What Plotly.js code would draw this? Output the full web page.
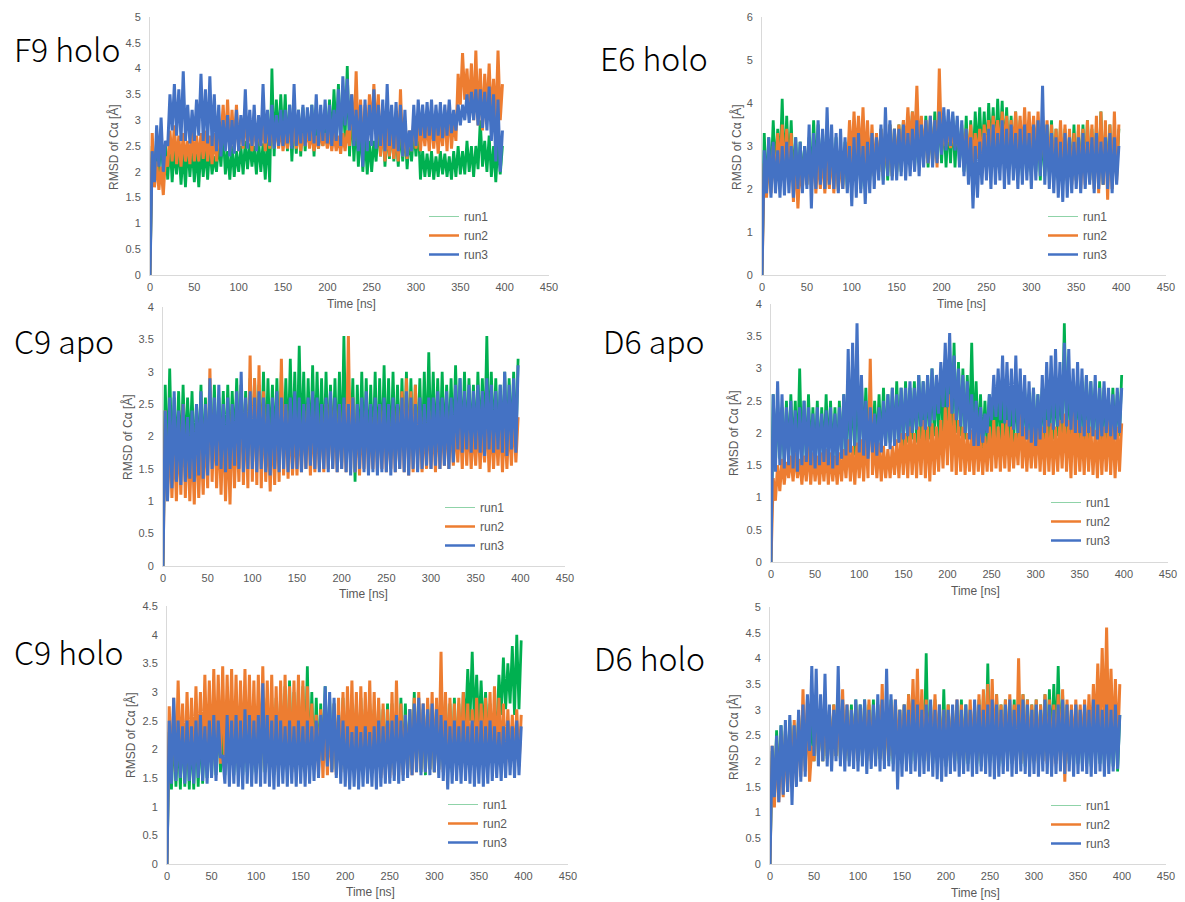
<!DOCTYPE html>
<html><head><meta charset="utf-8">
<script src="https://cdn.plot.ly/plotly-3.0.1.min.js"></script>
<style>html,body{margin:0;padding:0;background:#fff}#chart{width:1185px;height:902px}</style>
</head><body><div id="chart"></div>
<script>
// ---------- data ----------
// time bins (ns), 5-ns steps; each bin has a low and a high RMSD value
const time = Array.from({length: 80}, (_, i) => i * 5);
const runNames = ['run1', 'run2', 'run3'];
const panelTitles = ['F9 holo', 'E6 holo', 'C9 apo', 'D6 apo', 'C9 holo', 'D6 holo'];
const yMax = [5, 6, 4, 4, 4.5, 5];
const yStep = [0.5, 1, 0.5, 0.5, 0.5, 0.5];
const xTicks = [0, 50, 100, 150, 200, 250, 300, 350, 400, 450];
const yTitle = 'RMSD of C\u03b1 [\u00c5]';
const xTitle = 'Time [ns]';

// F9 holo
const f9_run1_lo = [0,1.9,2.0,1.95,1.85,1.8,1.95,1.75,1.7,1.9, 1.8,1.7,1.9,1.85,1.95,2.0,2.1,1.95,1.85,1.9, 2.0,1.95,2.05,2.1,1.95,2.0,1.85,1.8,2.3,2.6, 2.6,2.4,2.2,2.35,2.3,2.4,2.5,2.3,2.45,2.5, 2.6,2.55,2.7,2.6,2.65,2.3,2.2,2.1,2.0,1.95, 2.0,2.2,2.3,2.1,2.25,2.2,2.1,2.2,2.05,2.2, 2.3,1.85,1.9,1.9,1.85,1.9,1.95,1.9,1.85,1.9, 1.95,1.95,2.0,1.9,2.05,2.1,2.0,1.9,1.8,1.95];
const f9_run1_hi = [2.5,2.6,2.7,2.5,2.6,2.45,2.5,2.4,2.55,2.5, 2.4,2.5,2.45,2.5,2.3,2.6,2.8,2.4,2.5,2.4, 2.5,2.6,2.55,2.5,2.6,2.55,2.7,4.0,3.4,3.5, 3.5,3.3,3.1,3.2,3.25,3.1,3.3,3.2,3.0,3.1, 3.4,3.6,3.7,3.5,4.05,3.3,3.0,2.9,2.7,2.6, 2.6,2.9,3.0,2.8,2.9,2.75,2.9,2.8,2.7,2.8, 3.0,2.4,2.35,2.4,2.3,2.4,2.35,2.3,2.4,2.5, 2.4,2.6,2.5,2.5,3.0,2.6,2.7,2.5,2.6,2.5];
const f9_run2_lo = [0,1.7,1.65,1.55,2.1,2.2,2.15,2.1,2.2,2.15, 2.2,2.2,2.25,2.2,2.15,2.2,2.6,2.5,2.4,2.45, 2.4,2.45,2.5,2.4,2.45,2.5,2.4,2.45,2.5,2.45, 2.4,2.45,2.5,2.45,2.4,2.5,2.45,2.4,2.45,2.5, 2.45,2.4,2.4,2.35,2.4,2.5,2.6,2.5,2.4,2.6, 2.8,2.75,2.3,2.2,2.3,2.25,2.2,2.3,2.25,2.4, 2.45,2.4,2.5,2.4,2.45,2.35,2.5,2.4,2.45,2.6, 3.3,3.4,3.2,3.0,2.9,2.8,3.1,3.0,2.9,3.0];
const f9_run2_hi = [2.75,2.2,2.1,2.3,2.8,2.9,2.7,2.75,2.6,2.8, 2.7,2.75,2.8,2.7,2.75,2.8,3.3,3.4,3.2,3.3, 3.0,3.1,2.95,3.0,2.9,3.0,2.95,3.0,2.9,2.95, 2.8,2.85,2.9,2.8,2.75,2.85,2.8,2.7,2.8,2.75, 2.8,2.75,2.7,2.75,2.8,3.5,3.95,3.4,3.3,3.5, 3.7,3.5,3.0,2.85,2.9,2.8,3.6,2.9,2.8,3.0, 3.0,2.95,3.0,3.1,3.0,2.95,3.2,3.3,3.0,3.9, 4.3,4.0,4.1,4.35,4.0,3.9,4.1,3.8,4.35,3.7];
const f9_run3_lo = [0,1.8,2.1,2.0,2.5,2.8,2.7,2.6,2.6,2.55, 2.6,2.7,2.6,2.55,2.5,2.4,2.3,2.4,2.3,2.35, 2.4,2.5,2.45,2.5,2.4,2.5,2.55,2.5,2.45,2.5, 2.5,2.55,2.45,2.5,2.55,2.5,2.6,2.55,2.5,2.6, 2.55,2.5,2.6,2.5,2.9,2.8,2.5,2.4,2.1,2.4, 2.5,2.45,2.5,2.4,2.5,2.45,2.4,2.3,2.3,2.4, 2.5,2.7,2.65,2.7,2.6,2.7,2.65,2.7,2.75,2.8, 2.9,3.0,2.95,3.0,2.9,2.85,2.8,2.6,2.2,2.0];
const f9_run3_hi = [2.4,2.9,3.05,2.6,3.5,3.7,3.6,3.95,3.3,3.2, 3.4,3.9,3.6,3.85,3.5,3.3,3.0,3.1,3.0,3.2, 3.1,3.6,3.2,3.3,3.1,3.7,3.2,3.3,3.1,3.2, 3.2,3.3,3.7,3.2,3.3,3.25,3.3,3.5,3.3,3.4, 3.3,3.2,3.6,3.85,3.8,3.5,3.2,3.3,3.4,3.3, 3.6,3.3,3.4,3.7,3.3,3.35,3.3,3.2,2.8,3.3, 3.4,3.3,3.35,3.4,3.3,3.35,3.3,3.4,3.2,3.3, 3.3,3.5,3.55,3.6,3.6,3.55,3.65,3.5,3.4,2.8];

// E6 holo
const e6_run1_lo = [0,1.9,2.2,2.4,2.5,2.3,2.4,2.1,2.0,2.2, 2.1,2.3,2.4,2.2,2.0,2.1,2.2,2.0,2.1,2.0, 2.1,2.2,2.0,2.1,2.2,2.3,2.4,2.2,2.2,2.3, 2.3,2.4,2.5,2.6,2.5,2.6,2.7,2.5,2.6,2.7, 2.6,2.5,2.6,2.5,2.6,2.4,2.3,2.5,2.8,2.7, 2.8,2.9,2.8,2.9,2.8,2.6,2.5,2.4,2.3,2.4, 2.3,2.4,2.2,2.3,2.4,2.2,2.3,2.1,2.2,2.3, 2.2,2.3,2.4,2.2,2.3,2.2,2.1,2.3,2.2,2.3];
const e6_run1_hi = [3.3,3.2,3.6,3.4,4.1,3.7,3.6,3.2,3.1,3.0, 3.2,3.6,3.5,3.3,3.2,3.1,3.2,3.0,3.1,3.2, 3.2,3.3,3.1,3.2,3.3,3.2,3.4,3.3,3.5,3.4, 3.5,3.6,3.7,3.8,3.6,3.5,3.7,3.6,3.8,3.7, 3.7,3.6,3.7,3.6,3.5,3.7,3.6,3.8,3.9,3.8, 4.0,3.9,4.1,4.05,3.9,3.7,3.8,3.6,3.5,3.6, 3.5,3.6,3.4,3.5,3.6,3.4,3.5,3.4,3.3,3.5, 3.4,3.5,3.6,3.4,3.5,3.8,3.4,3.5,3.3,3.4];
const e6_run2_lo = [0,1.8,1.9,2.1,2.4,2.3,2.2,1.7,1.55,2.0, 2.1,2.0,1.9,2.0,1.9,2.0,1.9,1.95,2.0,2.4, 2.6,2.7,2.6,2.5,2.4,2.3,2.4,2.3,2.4,2.3, 2.4,2.6,2.9,3.0,3.0,2.8,2.7,2.6,2.6,2.5, 2.9,3.0,2.95,3.0,2.9,2.8,2.7,2.6,2.7,2.6, 2.7,2.8,2.9,2.8,2.9,2.8,2.9,2.8,2.7,2.8, 2.8,2.7,2.6,2.5,2.4,2.3,2.4,2.3,2.2,2.1, 2.2,2.0,2.1,2.2,2.0,1.9,2.1,1.75,2.0,2.2];
const e6_run2_hi = [2.6,2.8,3.0,3.3,3.5,3.4,3.3,2.8,2.6,2.9, 3.0,2.9,2.8,2.9,2.8,3.0,2.9,2.8,3.0,3.6, 3.8,3.7,3.9,3.6,3.5,3.3,3.4,3.3,3.5,3.4, 3.5,3.6,3.9,3.8,4.4,3.7,3.6,3.7,3.6,4.8, 3.3,3.4,3.3,3.2,3.3,3.4,3.5,3.3,3.4,3.5, 3.6,3.7,3.6,3.8,3.7,3.6,3.8,3.7,3.9,3.8, 3.7,3.8,3.7,3.6,3.5,3.4,3.6,3.5,3.4,3.3, 3.5,3.4,3.6,3.5,3.7,3.8,3.6,3.5,3.8,3.5];
const e6_run3_lo = [0,1.9,1.8,1.9,1.8,1.85,1.9,1.8,2.0,1.9, 2.0,1.55,2.0,2.1,2.0,2.1,2.0,1.9,2.0,1.9, 1.6,1.8,1.9,1.65,1.9,2.0,2.2,2.1,2.3,2.2, 2.2,2.3,2.2,2.3,2.4,2.3,2.5,2.6,2.5,2.6, 2.8,2.9,3.0,2.9,2.5,2.3,2.1,1.55,1.8,2.1, 2.2,2.0,2.1,2.2,2.0,2.1,2.2,2.0,2.1,2.2, 2.0,2.2,2.3,2.1,2.0,1.9,1.8,1.7,1.8,1.9, 2.0,1.9,2.0,2.1,1.9,2.0,2.1,2.0,1.9,2.1];
const e6_run3_hi = [2.9,3.2,3.1,2.9,3.0,3.1,3.0,3.2,3.1,3.0, 3.5,3.3,3.6,3.4,3.9,3.5,3.3,3.4,3.2,3.0, 3.2,3.3,3.0,3.1,3.3,3.2,3.5,3.9,3.6,3.4, 3.4,3.5,3.3,3.4,3.6,3.5,3.6,3.7,3.6,3.8, 3.9,3.85,3.8,3.7,3.6,3.4,3.2,3.0,3.1,3.3, 3.4,3.5,3.3,3.6,3.4,3.5,3.3,3.4,3.5,3.3, 3.5,3.6,4.4,3.5,3.3,3.2,3.1,3.3,3.2,3.1, 3.2,3.3,3.1,3.2,3.3,3.1,3.2,3.3,3.2,3.0];

// C9 apo
const c9a_run1_lo = [0,1.5,1.6,1.7,1.6,1.7,1.8,1.6,1.7,1.6, 1.6,1.7,1.6,1.7,1.65,1.7,1.8,1.7,1.75,1.7, 1.7,1.75,1.8,1.7,1.75,1.8,1.7,1.75,1.8,1.75, 1.7,1.8,1.75,1.7,1.8,1.75,1.7,1.8,1.75,1.7, 1.6,1.7,1.65,1.3,1.6,1.7,1.65,1.7,1.6,1.7, 1.7,1.65,1.7,1.75,1.7,1.65,1.7,1.75,1.7,1.75, 1.8,1.75,1.8,1.85,1.8,1.85,1.9,1.85,1.8,1.9, 1.85,1.9,1.85,1.8,1.9,1.85,1.9,1.85,1.9,1.85];
const c9a_run1_hi = [2.8,3.05,2.6,2.7,2.8,2.6,2.7,2.5,2.8,2.6, 2.7,2.8,2.6,2.7,2.8,2.7,2.9,2.8,2.7,2.9, 2.9,2.8,3.0,2.9,2.8,2.9,3.0,2.9,3.2,3.0, 3.4,3.0,2.9,3.1,3.0,2.9,3.0,2.8,2.9,3.0, 3.55,3.0,2.9,2.8,3.0,2.9,2.8,3.0,2.9,3.1, 2.9,3.0,2.8,2.9,3.0,2.9,2.8,2.9,3.0,3.3, 3.0,2.9,3.0,2.8,2.9,3.1,2.9,3.0,2.9,2.8, 3.0,2.9,3.55,3.0,2.9,2.8,3.0,2.9,3.0,3.2];
const c9a_run2_lo = [0,1.0,1.05,1.0,1.1,1.05,1.0,0.95,1.05,1.1, 1.2,1.3,1.2,1.1,1.0,0.95,1.2,1.3,1.25,1.2, 1.3,1.25,1.2,1.3,1.15,1.25,1.3,1.4,1.35,1.4, 1.4,1.45,1.5,1.4,1.45,1.5,1.45,1.5,1.5,1.45, 1.5,1.45,1.5,1.45,1.4,1.5,1.45,1.5,1.45,1.5, 1.45,1.5,1.45,1.5,1.45,1.4,1.45,1.5,1.45,1.5, 1.5,1.45,1.5,1.55,1.5,1.55,1.6,1.5,1.55,1.5, 1.55,1.5,1.6,1.45,1.5,1.55,1.45,1.5,1.55,1.6];
const c9a_run2_hi = [2.4,2.1,2.0,2.2,2.5,2.1,2.0,2.2,2.0,2.3, 3.05,2.4,2.2,2.3,2.1,2.4,2.2,2.8,2.5,3.25, 2.9,3.1,2.7,2.2,2.3,2.4,3.2,2.5,2.4,2.3, 2.3,2.4,2.5,2.4,2.3,2.4,2.5,2.6,2.4,2.5, 2.5,3.55,2.6,2.4,2.3,2.4,2.3,2.4,2.5,2.4, 2.3,2.4,2.5,2.7,2.9,2.7,2.8,2.4,2.3,2.4, 2.3,2.4,2.3,2.4,2.3,2.2,2.3,2.4,2.3,2.2, 2.3,2.2,2.4,2.3,2.2,2.3,2.2,2.3,2.4,2.3];
const c9a_run3_lo = [0,1.0,1.2,1.3,1.25,1.3,1.35,1.3,1.4,1.35, 1.4,1.5,1.55,1.5,1.45,1.5,1.55,1.5,1.45,1.5, 1.5,1.45,1.5,1.45,1.4,1.5,1.45,1.5,1.45,1.5, 1.5,1.45,1.5,1.55,1.5,1.45,1.5,1.45,1.5,1.45, 1.5,1.45,1.4,1.45,1.5,1.45,1.4,1.45,1.4,1.45, 1.45,1.4,1.45,1.5,1.45,1.4,1.5,1.45,1.5,1.55, 1.5,1.55,1.5,1.55,1.5,1.6,1.8,1.75,1.8,1.75, 1.8,1.75,1.7,1.8,1.75,1.8,1.75,1.7,1.8,1.75];
const c9a_run3_hi = [2.4,2.6,2.7,2.4,2.5,2.3,2.4,2.5,2.7,2.5, 2.9,2.6,2.8,2.5,2.6,2.5,2.7,3.0,2.6,2.7, 2.6,2.7,2.6,2.5,2.6,2.7,2.6,2.5,2.6,2.7, 2.6,2.5,2.6,2.7,2.6,2.5,2.6,2.7,2.6,2.5, 2.6,2.5,2.6,2.5,2.6,2.7,2.5,2.6,2.5,2.6, 2.5,2.6,2.5,2.6,2.7,2.6,2.5,2.6,2.5,2.6, 2.6,2.7,2.6,2.7,2.6,2.8,2.9,2.7,2.8,2.7, 2.8,2.7,2.9,2.8,2.7,2.8,3.0,2.8,2.9,3.1];

// D6 apo
const d6a_run1_lo = [0,1.5,1.6,1.55,1.6,1.65,1.6,1.55,1.6,1.65, 1.6,1.55,1.6,1.65,1.6,1.55,1.6,1.65,1.7,1.65, 1.7,1.75,1.7,1.75,1.8,1.75,1.8,1.85,1.8,1.85, 1.8,1.85,1.9,1.85,1.9,1.85,1.9,1.95,1.9,1.95, 2.0,1.95,2.0,1.95,1.9,1.95,1.9,1.85,1.75,1.8, 1.8,1.85,1.8,1.75,1.8,1.85,1.9,1.85,1.9,1.85, 1.8,1.85,1.9,1.85,1.9,1.95,1.9,1.95,1.9,1.85, 1.9,1.85,1.9,1.95,1.9,1.85,1.9,1.85,1.9,1.95];
const d6a_run1_hi = [2.6,2.5,2.4,2.5,2.6,2.5,3.0,2.5,2.6,2.4, 2.5,2.4,2.6,2.5,2.4,2.5,2.6,2.7,2.8,2.9, 2.8,2.7,2.6,2.5,2.6,2.7,2.6,2.7,2.8,2.7, 2.8,2.7,2.8,2.9,2.8,2.9,3.0,2.9,3.0,3.1, 3.2,3.4,3.1,3.0,2.9,3.4,2.8,2.6,2.5,2.6, 2.7,2.8,2.6,2.7,2.6,2.7,2.8,2.7,2.6,2.7, 2.6,2.7,2.8,2.9,2.8,2.9,3.7,2.9,2.8,2.9, 2.8,2.9,2.8,2.7,2.8,2.7,2.6,2.7,2.6,2.9];
const d6a_run2_lo = [0,0.95,1.1,1.2,1.3,1.25,1.3,1.2,1.25,1.2, 1.25,1.2,1.25,1.2,1.25,1.2,1.25,1.3,1.25,1.2, 1.3,1.25,1.3,1.35,1.3,1.25,1.3,1.3,1.35,1.3, 1.35,1.3,1.35,1.3,1.35,1.3,1.25,1.35,1.4,1.45, 1.5,1.4,1.35,1.4,1.35,1.4,1.35,1.4,1.35,1.4, 1.4,1.45,1.4,1.45,1.4,1.45,1.5,1.45,1.4,1.45, 1.45,1.4,1.35,1.4,1.35,1.4,1.45,1.4,1.3,1.35, 1.4,1.35,1.4,1.35,1.3,1.35,1.4,1.35,1.3,1.4];
const d6a_run2_hi = [1.3,1.5,1.6,1.55,1.65,1.7,1.6,1.65,1.8,1.7, 1.65,1.7,1.75,1.7,1.65,1.7,1.75,1.9,1.8,1.85, 1.9,2.0,3.15,1.9,1.85,1.8,1.75,1.8,1.9,2.0, 2.0,2.1,2.0,2.1,2.2,2.1,2.15,2.1,2.2,2.4, 2.6,2.3,2.2,2.1,2.0,2.05,2.1,2.0,1.95,2.1, 2.2,2.1,2.15,2.2,2.1,2.0,2.3,2.1,2.05,2.1, 2.2,2.1,2.2,2.15,2.1,2.2,2.3,2.2,2.4,2.2, 2.1,2.2,2.1,2.05,2.2,2.1,2.2,2.15,2.1,2.15];
const d6a_run3_lo = [0,1.4,1.5,1.45,1.5,1.45,1.4,1.5,1.55,1.5, 1.45,1.5,1.55,1.5,1.45,1.5,1.6,1.65,1.7,1.8, 1.7,1.65,1.6,1.7,1.65,1.7,1.8,1.75,1.8,1.85, 1.9,1.95,2.0,2.05,2.1,2.05,2.1,2.2,2.3,2.4, 2.4,2.3,2.2,2.1,2.0,1.9,1.8,1.8,1.85,2.0, 2.2,2.25,2.2,2.15,2.1,2.05,2.0,1.95,1.9,1.85, 1.8,1.9,2.0,2.1,2.05,2.1,2.15,2.1,2.05,2.0, 2.0,1.95,2.0,1.95,1.9,1.95,2.0,1.95,1.9,2.0];
const d6a_run3_hi = [2.6,2.8,2.6,2.4,2.5,2.35,2.4,2.5,2.4,2.3, 2.4,2.3,2.35,2.4,2.3,2.4,2.6,3.3,3.4,3.7, 2.9,2.5,2.4,2.3,2.4,2.5,2.6,2.7,2.6,2.7, 2.7,2.8,2.7,2.9,2.8,2.9,3.0,2.9,3.1,3.4, 3.55,3.2,3.0,2.9,2.8,2.6,2.5,2.4,2.3,2.6, 2.9,3.0,3.2,3.1,3.0,3.2,3.0,2.9,2.8,2.7, 2.6,2.9,3.1,3.2,3.3,3.1,3.4,3.3,3.0,3.1, 3.0,2.9,2.8,2.9,2.7,2.8,2.7,2.6,2.7,2.7];

// C9 holo
const c9h_run1_lo = [0,1.3,1.35,1.3,1.35,1.3,1.3,1.35,1.4,1.5, 1.5,1.55,1.6,1.55,1.6,1.55,1.6,1.55,1.6,1.55, 1.6,1.55,1.6,1.6,1.55,1.6,1.65,1.6,1.65,1.6, 1.6,1.65,1.6,1.65,1.7,1.8,1.7,1.65,1.6,1.65, 1.6,1.65,1.6,1.65,1.6,1.65,1.6,1.65,1.6,1.65, 1.6,1.65,1.7,1.65,1.6,1.65,1.7,1.6,1.55,1.65, 1.6,1.65,1.7,1.65,1.6,1.7,1.8,2.4,2.5,2.4, 2.3,2.2,2.1,2.0,2.2,2.6,2.7,2.8,2.6,2.7];
const c9h_run1_hi = [2.3,2.4,2.3,2.5,2.4,2.3,2.5,2.4,2.5,2.6, 2.5,2.6,2.5,2.7,2.6,2.5,2.6,2.7,2.6,2.5, 2.8,2.7,2.9,2.8,2.9,3.0,3.1,3.2,3.0,3.1, 3.1,3.45,3.0,2.9,2.8,3.1,2.9,2.8,2.7,2.9, 2.8,2.7,2.8,2.9,2.7,2.8,2.7,2.8,2.7,2.8, 2.8,2.7,2.9,2.8,2.7,3.0,2.8,2.7,2.8,2.7, 2.8,2.7,2.9,2.8,2.9,2.8,3.0,3.4,3.7,3.3, 3.2,3.0,2.8,2.7,3.3,3.6,3.5,3.8,4.0,3.9];
const c9h_run2_lo = [0,1.5,1.6,1.7,1.6,1.65,1.7,1.75,1.7,1.8, 1.7,1.8,1.75,1.7,1.8,1.75,1.7,1.8,1.75,1.7, 1.7,1.6,1.7,1.6,1.65,1.6,1.7,1.65,1.6,1.7, 1.65,1.6,1.7,1.65,1.6,1.5,1.55,1.6,1.55,1.6, 1.65,1.7,1.65,1.6,1.65,1.7,1.6,1.65,1.5,1.55, 1.5,1.55,1.6,1.55,1.6,1.55,1.6,1.65,1.6,1.65, 1.6,1.65,1.6,1.65,1.7,1.65,1.7,1.65,1.7,1.75, 1.7,1.75,1.7,1.75,1.7,1.75,1.7,1.8,1.75,1.7];
const c9h_run2_hi = [2.75,2.9,3.2,2.8,3.0,2.9,3.1,3.0,3.3,3.2, 3.4,3.3,3.45,3.3,3.4,3.3,3.2,3.4,3.3,3.2, 3.3,3.45,3.2,3.3,3.1,3.2,3.3,3.1,3.2,3.3, 3.2,3.1,2.8,2.6,2.7,2.6,2.5,2.8,2.9,3.0, 3.1,3.2,3.0,3.1,3.0,3.2,3.0,2.9,2.8,2.7, 3.0,3.2,2.8,2.6,2.7,2.9,3.0,2.8,2.9,3.0, 2.9,3.7,3.0,2.9,2.8,2.9,3.0,2.8,2.7,2.9, 2.8,2.9,3.0,3.1,2.9,2.8,2.7,2.6,2.7,2.6];
const c9h_run3_lo = [0,1.4,1.45,1.5,1.4,1.45,1.4,1.5,1.45,1.4, 1.5,1.45,1.85,1.4,1.35,1.4,1.35,1.3,1.4,1.35, 1.4,1.35,1.4,1.35,1.3,1.35,1.4,1.35,1.4,1.35, 1.4,1.35,1.4,1.45,1.5,1.8,1.7,1.6,1.5,1.4, 1.35,1.3,1.35,1.3,1.35,1.4,1.35,1.3,1.35,1.4, 1.4,1.45,1.4,1.45,1.5,1.55,1.6,1.55,1.6,1.55, 1.6,1.5,1.45,1.3,1.4,1.45,1.4,1.45,1.4,1.35, 1.4,1.35,1.4,1.45,1.5,1.45,1.5,1.55,1.5,1.55];
const c9h_run3_hi = [2.5,2.9,2.5,2.4,2.5,2.4,2.5,2.6,2.4,2.5, 2.6,2.5,1.9,2.6,2.5,2.6,2.5,2.7,2.6,2.5, 2.6,3.15,2.6,2.5,2.6,2.5,2.4,2.5,2.4,2.5, 2.4,2.5,2.4,2.5,2.6,3.1,3.0,2.9,2.6,2.5, 2.4,2.3,2.4,2.3,2.4,2.3,2.4,2.5,2.4,2.5, 2.5,2.6,2.5,2.6,2.7,2.8,2.9,2.8,2.7,2.8, 2.7,2.6,2.5,2.4,2.5,2.4,2.5,2.4,2.5,2.4, 2.5,2.4,2.5,2.4,2.3,2.4,2.5,2.4,2.5,2.4];

// D6 holo
const d6h_run1_lo = [0,1.3,1.5,1.6,1.7,1.8,1.9,2.0,1.9,2.0, 2.0,2.1,2.0,2.05,2.0,2.1,2.0,2.05,2.0,2.1, 2.0,2.05,2.0,2.1,2.0,2.05,2.0,2.0,1.95,2.0, 1.95,2.0,1.95,2.0,1.95,2.0,1.9,1.95,2.0,1.95, 1.9,1.95,2.0,1.95,1.9,1.95,2.0,1.95,1.9,1.95, 2.0,1.95,1.9,1.95,2.0,1.95,2.0,1.95,1.9,1.95, 2.0,1.95,2.0,2.1,2.2,2.3,2.2,2.0,1.95,1.9, 1.95,1.9,1.95,1.9,2.0,1.95,1.9,1.95,1.9,1.8];
const d6h_run1_hi = [2.2,2.6,2.7,2.6,2.8,2.7,2.9,3.0,2.9,3.0, 3.1,3.0,3.1,3.0,3.1,3.2,3.1,3.0,3.1,3.2, 3.1,3.2,3.1,3.2,3.1,3.0,3.1,3.2,3.1,3.0, 3.1,3.3,3.2,3.3,3.2,4.1,3.1,3.2,3.0,3.4, 3.1,3.0,3.1,3.2,3.1,3.0,3.1,3.2,3.3,3.9, 3.2,3.3,3.1,3.2,3.1,3.2,3.1,3.3,3.2,3.1, 3.2,3.1,3.3,3.4,3.5,3.85,3.3,3.1,3.0,3.1, 3.0,3.1,3.0,3.1,3.0,2.9,3.0,2.9,3.0,2.9];
const d6h_run2_lo = [0,1.1,1.2,1.3,1.4,1.5,1.6,1.7,1.8,1.6, 2.0,2.1,2.0,2.1,2.0,2.1,2.05,2.0,2.1,2.05, 2.0,2.1,2.05,2.0,2.1,2.05,2.0,2.1,2.05,2.1, 2.1,2.2,2.3,2.2,2.1,2.05,2.0,2.1,2.05,2.0, 2.05,2.0,2.1,2.05,2.0,2.1,2.05,2.0,2.1,2.2, 2.2,2.1,2.05,2.0,2.1,2.05,2.0,1.95,2.0,1.95, 2.0,1.95,2.0,1.95,1.9,1.95,2.0,1.6,2.0,2.1, 2.2,2.15,2.2,2.3,2.5,2.6,2.5,2.4,2.3,2.2];
const d6h_run2_hi = [2.3,2.4,2.5,2.6,2.7,2.8,2.9,3.4,3.2,2.3, 3.2,3.1,3.2,3.0,3.1,3.0,3.4,3.1,3.0,3.1, 3.0,3.1,3.2,3.0,3.1,3.5,3.0,3.1,3.2,3.0, 3.1,3.3,3.6,3.8,3.4,3.2,3.1,3.3,3.1,3.0, 3.1,3.0,3.2,3.1,3.0,3.2,3.1,3.3,3.4,3.5, 3.6,3.3,3.1,3.2,3.3,3.1,4.0,3.3,3.2,3.1, 3.2,3.1,3.3,3.2,3.1,3.3,3.4,3.2,3.1,3.2, 3.1,3.2,3.3,3.5,3.9,4.2,4.6,3.8,3.6,3.5];
const d6h_run3_lo = [0,1.3,1.2,1.35,1.4,1.15,1.5,1.6,1.7,2.2, 2.1,1.9,2.0,1.9,1.8,2.0,1.9,1.8,1.9,1.85, 1.8,1.9,1.75,1.85,1.9,1.8,1.85,1.9,1.8,1.45, 1.7,1.8,1.75,1.8,1.7,1.75,1.8,1.7,1.65,1.6, 1.7,1.75,1.8,1.7,1.75,1.8,1.7,1.75,1.8,1.75, 1.7,1.65,1.7,1.75,1.8,1.7,1.75,1.8,1.75,1.7, 1.75,1.7,1.8,1.75,1.7,1.75,1.8,1.75,1.8,1.7, 1.75,1.8,1.75,1.7,1.75,1.8,1.7,1.75,1.8,1.85];
const d6h_run3_hi = [2.3,2.5,2.7,2.8,2.9,2.7,3.0,3.1,3.3,3.85, 3.8,3.3,3.7,3.1,3.0,3.85,3.2,3.1,3.0,3.2, 3.1,3.2,3.0,3.1,3.3,3.2,3.8,3.3,3.2,3.0, 3.1,3.0,3.2,3.1,3.0,3.1,3.2,3.0,3.1,3.0, 3.0,3.1,3.2,3.0,3.1,3.0,3.2,3.1,3.0,3.1, 3.2,3.1,3.0,3.1,3.2,3.0,3.1,3.2,3.1,3.0, 3.1,3.0,3.2,3.1,3.0,3.1,3.2,3.1,3.0,3.1, 3.0,3.1,3.0,3.2,3.1,3.0,3.1,3.0,3.1,2.9];

const panelSeries = [
  [[f9_run1_lo, f9_run1_hi], [f9_run2_lo, f9_run2_hi], [f9_run3_lo, f9_run3_hi]],
  [[e6_run1_lo, e6_run1_hi], [e6_run2_lo, e6_run2_hi], [e6_run3_lo, e6_run3_hi]],
  [[c9a_run1_lo, c9a_run1_hi], [c9a_run2_lo, c9a_run2_hi], [c9a_run3_lo, c9a_run3_hi]],
  [[d6a_run1_lo, d6a_run1_hi], [d6a_run2_lo, d6a_run2_hi], [d6a_run3_lo, d6a_run3_hi]],
  [[c9h_run1_lo, c9h_run1_hi], [c9h_run2_lo, c9h_run2_hi], [c9h_run3_lo, c9h_run3_hi]],
  [[d6h_run1_lo, d6h_run1_hi], [d6h_run2_lo, d6h_run2_hi], [d6h_run3_lo, d6h_run3_hi]]
];

// ---------- styling / layout (pixels in the 1185x902 page) ----------
const W = 1185, H = 902;
const runColors = ['#00B050', '#ED7D31', '#4472C4'];
const dataWidths = [2.8, 3.0, 3.0];
const legendWidths = [1, 2.5, 2.5];
const legendColors = ['#8fd3a8', '#ED7D31', '#4472C4'];
// [x of 0, x of 450, y of top, y of 0]
const boxes = [[150, 549, 17, 275], [762, 1166, 17, 275], [163, 565, 307, 566],
               [771, 1168, 304, 562], [167, 568, 606, 864], [770, 1166, 607, 864]];
const titlePos = [[12, 48], [598, 57], [12, 340], [601, 340], [12, 651], [592, 657]];
const yTitlePos = [[113, 147], [736, 147], [127, 437], [734, 433], [130, 735], [733, 737]];
const xTitlePos = [[351, 304], [961, 304], [363, 594], [975, 591], [370, 892], [975, 893]];
const legendPos = [[424, 202], [1043, 202], [440, 493], [1046, 488], [443, 790], [1046, 791]];

const axisFont = {family: 'Liberation Sans, Arial, sans-serif', size: 11, color: '#595959'};
const traces = [];
const layout = {
  width: W, height: H, margin: {l: 0, r: 0, t: 0, b: 0},
  paper_bgcolor: '#ffffff', plot_bgcolor: '#ffffff',
  showlegend: true, annotations: []
};

// each 5-ns bin: the trace dips to the bin's low value, then rises to its high value
function zigzag(lo, hi) {
  const xs = [], ys = [];
  for (let i = 0; i < time.length; i++) {
    xs.push(time[i], time[i] + 2.5);
    ys.push(lo[i], hi[i]);
  }
  return {xs, ys};
}

panelSeries.forEach((series, p) => {
  const k = p + 1;
  const sx = k === 1 ? '' : String(k);
  const b = boxes[p];
  series.forEach((pair, r) => {
    const z = zigzag(pair[0], pair[1]);
    traces.push({
      type: 'scatter', mode: 'lines', x: z.xs, y: z.ys, name: runNames[r],
      xaxis: 'x' + sx, yaxis: 'y' + sx, showlegend: false,
      line: {color: runColors[r], width: dataWidths[r]}, hoverinfo: 'skip'
    });
  });
  // legend entries (line samples as in the reference)
  series.forEach((pair, r) => {
    traces.push({
      type: 'scatter', mode: 'lines', x: [null], y: [null], name: runNames[r],
      xaxis: 'x' + sx, yaxis: 'y' + sx, legend: 'legend' + sx, showlegend: true,
      line: {color: legendColors[r], width: legendWidths[r]}, hoverinfo: 'skip'
    });
  });
  layout['xaxis' + sx] = {
    domain: [b[0] / W, b[1] / W], range: [0, 450], tickvals: xTicks, ticktext: xTicks.map(String),
    showline: true, linecolor: '#d9d9d9', linewidth: 1, showgrid: false, zeroline: false,
    ticks: '', tickfont: axisFont, anchor: 'y' + sx, fixedrange: true, ticklabelstandoff: 2
  };
  layout['yaxis' + sx] = {
    domain: [1 - b[3] / H, 1 - b[2] / H], range: [0, yMax[p]], tick0: 0, dtick: yStep[p],
    showline: true, linecolor: '#d9d9d9', linewidth: 1, showgrid: false, zeroline: false,
    ticks: '', tickfont: axisFont, anchor: 'x' + sx, fixedrange: true, ticklabelstandoff: 6
  };
  layout['legend' + sx] = {
    x: legendPos[p][0] / W, y: 1 - legendPos[p][1] / H, xanchor: 'left', yanchor: 'top',
    bgcolor: 'rgba(0,0,0,0)', borderwidth: 0, tracegroupgap: 0,
    font: {family: 'Liberation Sans, Arial, sans-serif', size: 12, color: '#595959'},
    itemclick: false, itemdoubleclick: false
  };
  layout.annotations.push({
    text: panelTitles[p], xref: 'paper', yref: 'paper', x: titlePos[p][0] / W, y: 1 - titlePos[p][1] / H,
    xanchor: 'left', yanchor: 'middle', showarrow: false,
    font: {family: 'Noto Sans CJK JP, Noto Sans, sans-serif', size: 32, color: '#000000', weight: 300}
  });
  layout.annotations.push({
    text: yTitle, xref: 'paper', yref: 'paper', x: yTitlePos[p][0] / W, y: 1 - yTitlePos[p][1] / H,
    xanchor: 'center', yanchor: 'middle', textangle: -90, showarrow: false,
    font: {family: 'Liberation Sans, Arial, sans-serif', size: 12, color: '#595959'}
  });
  layout.annotations.push({
    text: xTitle, xref: 'paper', yref: 'paper', x: xTitlePos[p][0] / W, y: 1 - xTitlePos[p][1] / H,
    xanchor: 'center', yanchor: 'middle', showarrow: false,
    font: {family: 'Liberation Sans, Arial, sans-serif', size: 12, color: '#595959'}
  });
});

Plotly.newPlot('chart', traces, layout, {staticPlot: true, displayModeBar: false});
</script>
</body></html>
